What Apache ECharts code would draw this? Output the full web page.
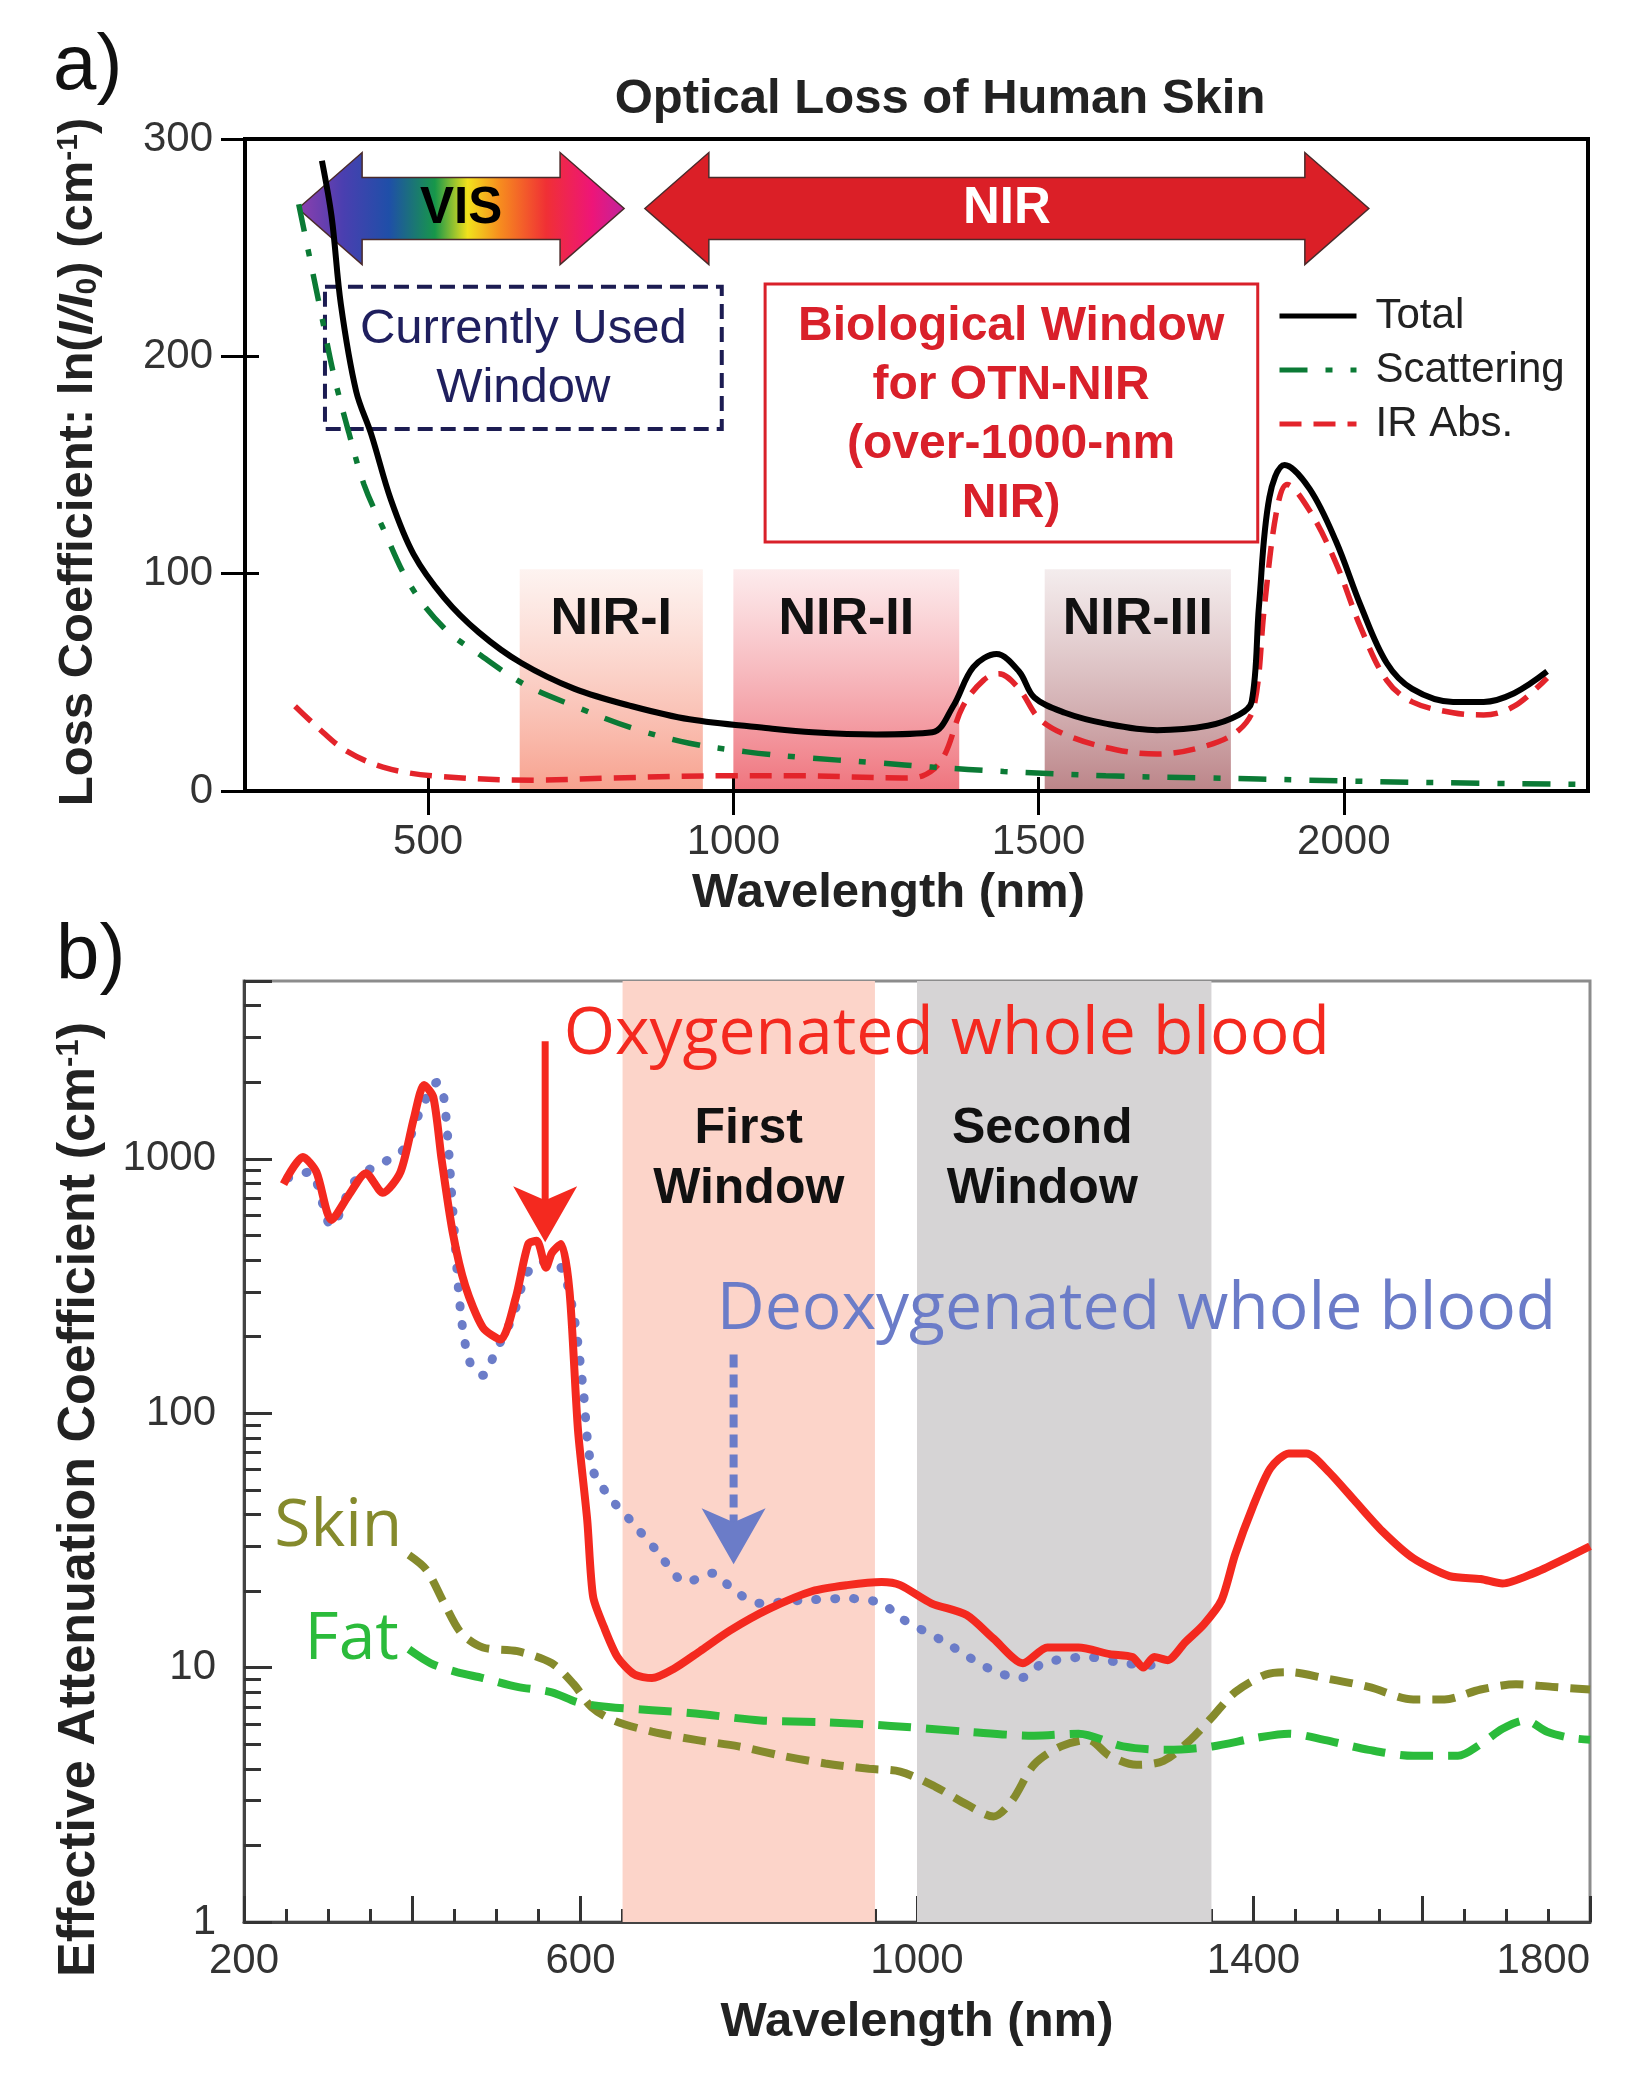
<!DOCTYPE html>
<html>
<head>
<meta charset="utf-8">
<script src="https://cdn.jsdelivr.net/npm/echarts@6/dist/echarts.min.js"></script>
<style>html,body{margin:0;padding:0;background:#fff}#c{width:1634px;height:2093px}</style>
</head>
<body>
<div id="c"></div>
<script>
// ---------------- Panel a data: [wavelength nm, loss coefficient cm^-1] ----------------
const totalLoss = [[326,290],[342,264],[357,224],[382,184],[407,164],[439,134],[476,109],[526,89],[583,73],[652,59],[740,47],[834,39],[928,33],[1053,29],[1130,27],[1234,26],[1326,27],[1360,39],[1393,57],[1431,63],[1468,55],[1493,43],[1543,36],[1610,31],[1694,28],[1777,30],[1828,35],[1849,41],[1861,85],[1878,135],[1903,150],[1944,139],[1987,115],[2028,85],[2070,59],[2112,47],[2179,41],[2229,41],[2279,45],[2333,55]];
const scatteringLoss = [[288,270],[307,244],[326,218],[345,192],[370,165],[395,141],[426,121],[470,95],[526,75],[583,63],[658,49],[740,39],[834,29],[928,22],[1022,18],[1110,15.5],[1234,13],[1326,11],[1443,9],[1610,7],[1777,6],[1944,5],[2112,4],[2397,3]];
const irAbsLoss = [[282,39],[320,29],[363,19],[426,11],[508,7],[677,5],[802,6],[990,7],[1109,7],[1276,6],[1310,7],[1343,15],[1376,39],[1410,51],[1435,54],[1468,47],[1502,33],[1552,25],[1627,19],[1694,17],[1777,21],[1828,28],[1853,39],[1870,85],[1890,129],[1907,141],[1944,129],[1987,105],[2028,75],[2070,51],[2112,41],[2179,36],[2229,35],[2279,39],[2333,52]];
const lossTicks = [0, 100, 200, 300];
const bandsA = [{name:'NIR-I', from:650, to:950, top:102}, {name:'NIR-II', from:1000, to:1370, top:102}, {name:'NIR-III', from:1510, to:1815, top:102}];

// ---------------- Panel b data: [wavelength nm, effective attenuation cm^-1] ----------------
const oxyBlood = [[247,796],[270,1017],[286,888],[304,575],[324,715],[345,878],[365,735],[386,888],[402,1446],[414,1950],[425,1750],[435,989],[448,516],[463,317],[484,217],[505,195],[523,284],[538,463],[548,476],[559,373],[566,427],[577,463],[587,300],[597,86],[608,38],[615,19],[628,14.4],[644,11],[664,9.4],[685,9.1],[711,9.9],[742,11.6],[778,14],[824,17],[876,20],[917,21.1],[958,21.7],[980,21.1],[1017,17.9],[1059,16.1],[1091,13],[1126,10.4],[1155,12],[1192,12],[1229,11.3],[1256,11],[1269,10],[1282,11],[1298,10.7],[1319,12.6],[1341,14.8],[1362,18.4],[1378,27.7],[1399,42.7],[1420,60.7],[1442,69.5],[1463,69.5],[1489,59],[1521,45],[1553,34.4],[1590,26.9],[1633,22.9],[1670,22.3],[1696,21.4],[1733,23.5],[1771,26.9],[1800,30]];
const deoxyBlood = [[252,841],[278,888],[304,545],[329,796],[350,912],[371,989],[391,1103],[412,1612],[430,2002],[438,1702],[448,641],[458,242],[469,157],[484,141],[499,175],[520,242],[536,353],[556,394],[577,373],[592,242],[603,126],[613,62],[633,47.5],[659,38],[690,29],[726,21.7],[757,23.5],[783,20],[814,17.9],[865,18.4],[917,18.7],[958,17.9],[980,15.7],[1033,12.6],[1086,9.9],[1123,9.1],[1150,10.4],[1203,11],[1245,10.4],[1282,10.2]];
const skinAtt = [[396,27.7],[417,24.2],[438,17.9],[458,13.7],[484,12],[525,11.6],[566,10.4],[592,8.6],[613,7],[639,6.2],[685,5.6],[737,5.2],[788,4.9],[840,4.5],[891,4.2],[943,4.0],[980,3.9],[1022,3.4],[1059,2.9],[1091,2.6],[1113,3.0],[1139,4.15],[1171,4.9],[1203,5.2],[1229,4.5],[1261,4.15],[1293,4.3],[1325,5.2],[1351,6.4],[1378,8],[1415,9.4],[1442,9.6],[1484,9.1],[1537,8.4],[1590,7.5],[1627,7.5],[1670,8.2],[1712,8.6],[1755,8.4],[1800,8.2]];
const fatAtt = [[396,11.8],[422,10.4],[453,9.6],[484,9.1],[525,8.4],[566,8],[597,7.3],[633,7],[685,6.8],[737,6.6],[814,6.2],[891,6.1],[969,5.9],[1059,5.6],[1139,5.4],[1192,5.5],[1245,4.9],[1298,4.75],[1351,4.9],[1404,5.3],[1442,5.5],[1484,5.2],[1537,4.75],[1590,4.5],[1643,4.5],[1670,5],[1696,5.75],[1723,6.2],[1749,5.6],[1776,5.3],[1800,5.2]];
const attTickLabels = ['1', '10', '100', '1000'];
const wavelengthLabelsB = [200, 600, 1000, 1400, 1800];
const bandsB = [{name:'First\nWindow', from:650, to:950}, {name:'Second\nWindow', from:1000, to:1350}];

// ---------------- Annotations (anchored in data coordinates) ----------------
const arrowsA = [
  {label:'VIS', from:287, to:821, y:268, fill:'rainbow', color:'#000'},
  {label:'NIR', from:855, to:2041, y:268, fill:'#db1f27', color:'#fff'}
];
const boxUsed = {x0:331, y0:232, x1:981, y1:166.6, tx:656, ty:199, text:'Currently Used\nWindow'};
const boxBio = {x0:1052, y0:233.3, x1:1859, y1:114.6, tx:1455, ty:173, text:'Biological Window\nfor OTN-NIR\n(over-1000-nm\nNIR)'};
const textsB = [
  {text:'Oxygenated whole blood', x:580, y:3050, color:'#f4291f'},
  {text:'Deoxygenated whole blood', x:762, y:255, color:'#6b7cc8'},
  {text:'Skin', x:236, y:35.5, color:'#858a2c'},
  {text:'Fat', x:272, y:12.8, color:'#2bbb3b'}
];
const arrowsB = [
  {x:558, from:2900, to:470, color:'#f4291f', dashed:false},
  {x:782, from:170, to:25.5, color:'#6b7cc8', dashed:true}
];

const F = '"Liberation Sans", Arial, Helvetica, sans-serif';
const H = '"Open Sans", "Noto Sans", sans-serif';

const rainbow = new echarts.graphic.LinearGradient(0, 0, 1, 0, [
  {offset:0, color:'#8e3fae'}, {offset:0.14, color:'#4a3fb0'}, {offset:0.28, color:'#1f4fa8'},
  {offset:0.42, color:'#17974a'}, {offset:0.52, color:'#f2e21c'}, {offset:0.62, color:'#f68b1f'},
  {offset:0.76, color:'#f03035'}, {offset:0.9, color:'#ee1578'}, {offset:1, color:'#c0239e'}
]);

function renderAnnotA(params, api) {
  const P = (x, y) => api.coord([x, y]);
  const kids = [];
  arrowsA.forEach(a => {
    const L = P(a.from, a.y), R = P(a.to, a.y);
    const cy = L[1], HH = 56, S = 31, HL = 64, x0 = L[0], x1 = R[0];
    const pts = [[x0,cy],[x0+HL,cy-HH],[x0+HL,cy-S],[x1-HL,cy-S],[x1-HL,cy-HH],[x1,cy],[x1-HL,cy+HH],[x1-HL,cy+S],[x0+HL,cy+S],[x0+HL,cy+HH]];
    kids.push({type:'polygon', shape:{points:pts}, style:{fill: a.fill === 'rainbow' ? rainbow : a.fill, stroke:'#4a2a2a', lineWidth:1.5}});
    kids.push({type:'text', style:{text:a.label, x:(x0+x1)/2, y:cy, align:'center', verticalAlign:'middle', fill:a.color, font:'bold 51px ' + F}});
  });
  [boxUsed, boxBio].forEach((b, i) => {
    const A = P(b.x0, b.y0), B = P(b.x1, b.y1);
    kids.push({type:'rect', shape:{x:A[0], y:A[1], width:B[0]-A[0], height:B[1]-A[1]},
      style: i === 0 ? {fill:'none', stroke:'#1c1c52', lineWidth:4, lineDash:[15,8]} : {fill:'#fff', stroke:'#d9202a', lineWidth:3}});
    const T = P(b.tx, b.ty);
    kids.push({type:'text', style:{text:b.text, x:T[0], y:T[1], align:'center', verticalAlign:'middle',
      lineHeight: 59,
      fill: i === 0 ? '#1f1f5e' : '#d9202a', font: (i === 0 ? '49px ' : 'bold 48px ') + F}});
  });
  return {type:'group', children:kids};
}

function renderAnnotB(params, api) {
  const P = (x, y) => api.coord([x, y]);
  const kids = [];
  textsB.forEach(t => {
    const p = P(t.x, t.y);
    kids.push({type:'text', style:{text:t.text, x:p[0], y:p[1], align:'left', verticalAlign:'middle', fill:t.color, font:'66px ' + H}});
  });
  arrowsB.forEach(a => {
    const s = P(a.x, a.from), t = P(a.x, a.to);
    kids.push({type:'line', shape:{x1:s[0], y1:s[1], x2:t[0], y2:t[1]-36},
      style:{stroke:a.color, lineWidth: a.dashed ? 8 : 7, lineDash: a.dashed ? [13, 7] : null}});
    kids.push({type:'polygon', shape:{points:[[t[0], t[1]], [t[0]-32, t[1]-56], [t[0], t[1]-42], [t[0]+32, t[1]-56]]}, style:{fill:a.color}});
  });
  return {type:'group', children:kids};
}

const tickLabelStyle = {fontSize:42, color:'#333', fontFamily:F};
const nameStyle = {fontSize:49, fontWeight:'bold', color:'#222', fontFamily:F};
const isPow10 = v => { const l = Math.log10(v); return Math.abs(l - Math.round(l)) < 1e-6; };

const option = {
  backgroundColor:'#fff',
  animation:false,
  title:{text:'Optical Loss of Human Skin', left:935, top:70, textAlign:'center',
    textStyle:{fontSize:49, fontWeight:'bold', color:'#222', fontFamily:F}},
  legend:{data:['Total','Scattering','IR Abs.'], orient:'vertical', left:1272, top:290,
    itemWidth:77, itemHeight:40, itemGap:12, itemStyle:{opacity:0, borderWidth:0}, lineStyle:{width:5},
    textStyle:{fontSize:42, color:'#222', fontFamily:F, padding:[0,0,0,14]}},
  graphic:[
    {type:'text', left:53, top:28, style:{text:'a)', font:'78px ' + F, fill:'#111'}},
    {type:'text', left:56, top:918, style:{text:'b)', font:'78px ' + F, fill:'#111'}}
  ],
  grid:[
    {left:245, top:139, width:1343, height:652, show:true, borderColor:'#000', borderWidth:4, containLabel:false, outerBoundsMode:'none'},
    {left:244, top:981, width:1346, height:941, show:true, borderColor:'#8c8c8c', borderWidth:3, containLabel:false, outerBoundsMode:'none'}
  ],
  xAxis:[
    {gridIndex:0, type:'value', min:200, max:2400, splitNumber:5, position:'bottom',
      axisLine:{lineStyle:{color:'#000', width:4}}, axisTick:{show:true, inside:false, length:24, lineStyle:{color:'#000', width:3}},
      axisLabel:{...tickLabelStyle, margin:30, showMinLabel:false, showMaxLabel:false, formatter:v => (v % 500 === 0 ? String(v) : '')},
      splitLine:{show:false},
      name:'Wavelength (nm)', nameLocation:'middle', nameGap:78, nameTextStyle:{...nameStyle, padding:[0,56,0,0]}},
    {gridIndex:0, type:'value', min:200, max:2400, splitNumber:5, position:'bottom',
      axisLine:{show:false}, axisTick:{show:true, inside:true, length:14, lineStyle:{color:'#000', width:3}},
      axisLabel:{show:false}, splitLine:{show:false}},
    {gridIndex:1, type:'value', min:200, max:1800, interval:200, position:'bottom',
      axisLine:{lineStyle:{color:'#444', width:3}}, axisTick:{show:true, inside:true, length:26, lineStyle:{color:'#333', width:3}},
      minorTick:{show:true, splitNumber:4, length:13, lineStyle:{color:'#333', width:3}},
      axisLabel:{...tickLabelStyle, margin:18, alignMaxLabel:'right',
        formatter:v => (wavelengthLabelsB.indexOf(v) >= 0 ? String(v) : '')},
      splitLine:{show:false},
      name:'Wavelength (nm)', nameLocation:'middle', nameGap:76, nameTextStyle:nameStyle}
  ],
  yAxis:[
    {gridIndex:0, type:'value', min:0, max:300, interval:100, position:'left',
      axisLine:{lineStyle:{color:'#000', width:4}}, axisTick:{show:true, inside:false, length:24, lineStyle:{color:'#000', width:3}},
      axisLabel:{...tickLabelStyle, margin:32, formatter:v => (lossTicks.indexOf(v) >= 0 ? String(v) : '')},
      splitLine:{show:false},
      name:'Loss Coefficient: ln({i|I/I}{s|0}) (cm{p|-1})', nameLocation:'middle', nameGap:142,
      nameTextStyle:{...nameStyle, fontSize:49, padding:[0,0,0,6], rich:{
        i:{fontSize:49, fontWeight:'bold', fontStyle:'italic', color:'#222', fontFamily:F},
        s:{fontSize:30, fontWeight:'bold', color:'#222', fontFamily:F, verticalAlign:'bottom', lineHeight:49},
        p:{fontSize:30, fontWeight:'bold', color:'#222', fontFamily:F, verticalAlign:'top', lineHeight:49}}}},
    {gridIndex:0, type:'value', min:0, max:300, interval:100, position:'left',
      axisLine:{show:false}, axisTick:{show:true, inside:true, length:14, lineStyle:{color:'#000', width:3}},
      axisLabel:{show:false}, splitLine:{show:false}},
    {gridIndex:1, type:'log', logBase:10, min:1, max:5000, position:'left',
      axisLine:{lineStyle:{color:'#444', width:3}}, axisTick:{show:true, inside:true, length:28, lineStyle:{color:'#333', width:3}},
      minorTick:{show:true, splitNumber:9, length:17, lineStyle:{color:'#333', width:3}},
      axisLabel:{...tickLabelStyle, margin:28, showMaxLabel:false,
        formatter:v => (isPow10(v) && attTickLabels.indexOf(String(Math.round(v))) >= 0 ? String(Math.round(v)) : '')},
      splitLine:{show:false}, minorSplitLine:{show:false},
      name:'Effective Attenuation Coefficient (cm{p|-1})', nameLocation:'middle', nameGap:138,
      nameTextStyle:{...nameStyle, fontSize:52, padding:[0,96,0,0], rich:{
        p:{fontSize:31, fontWeight:'bold', color:'#222', fontFamily:F, verticalAlign:'top', lineHeight:52}}}}
  ],
  series:[
    {type:'custom', name:'annotA', xAxisIndex:0, yAxisIndex:0, data:[[0,0]], renderItem:renderAnnotA, clip:false, z:1, silent:true},
    {type:'line', name:'IR Abs.', xAxisIndex:0, yAxisIndex:0, data:irAbsLoss, symbol:'none', smooth:0.35, z:3,
      lineStyle:{color:'#e3242b', width:5.5, type:[22,12]}, itemStyle:{color:'#e3242b'},
      markArea:{silent:true, z:0, data: bandsA.map((b, i) => [
        {xAxis:b.from, yAxis:0, name:b.name, itemStyle:{color:new echarts.graphic.LinearGradient(0,0,0,1,
          i === 0 ? [{offset:0,color:'rgba(253,238,234,0.7)'},{offset:1,color:'rgba(247,156,136,0.95)'}]
          : i === 1 ? [{offset:0,color:'rgba(252,228,230,0.75)'},{offset:1,color:'rgba(238,108,118,0.95)'}]
          : [{offset:0,color:'rgba(240,230,231,0.75)'},{offset:1,color:'rgba(184,126,130,0.95)'}])}},
        {xAxis:b.to, yAxis:b.top}]),
        label:{show:true, position:'insideTop', distance:24, color:'#111', fontSize:52, fontWeight:'bold', fontFamily:F}}},
    {type:'line', name:'Scattering', xAxisIndex:0, yAxisIndex:0, data:scatteringLoss, symbol:'none', smooth:0.35, z:3,
      lineStyle:{color:'#0b7a35', width:5.5, type:[28,18,7,18]}, itemStyle:{color:'#0b7a35'}},
    {type:'line', name:'Total', xAxisIndex:0, yAxisIndex:0, data:totalLoss, symbol:'none', smooth:0.35, z:4,
      lineStyle:{color:'#000', width:6}, itemStyle:{color:'#000'}},

    {type:'line', name:'Skin', xAxisIndex:2, yAxisIndex:2, data:skinAtt, symbol:'none', smooth:0.3, z:3,
      lineStyle:{color:'#858a2c', width:8, type:[23,12]}, itemStyle:{color:'#858a2c'},
      markArea:{silent:true, data: bandsB.map((b, i) => [
        {xAxis:b.from, name:b.name, itemStyle:{color: i === 0 ? '#fcd4c9' : '#d6d4d5'},
          label: i === 0 ? {} : {offset:[-22, 0]}}, {xAxis:b.to}]),
        label:{show:true, position:'insideTop', distance:118, color:'#111', fontSize:50, fontWeight:'bold', fontFamily:F, lineHeight:60}}},
    {type:'line', name:'Fat', xAxisIndex:2, yAxisIndex:2, data:fatAtt, symbol:'none', smooth:0.3, z:3,
      lineStyle:{color:'#2bbb3b', width:8, type:[33,15]}, itemStyle:{color:'#2bbb3b'}},
    {type:'line', name:'Deoxygenated whole blood', xAxisIndex:2, yAxisIndex:2, data:deoxyBlood, symbol:'none', smooth:0.3, z:3,
      lineStyle:{color:'#6b7cc8', width:9, type:[1,18], cap:'round'}, itemStyle:{color:'#6b7cc8'}},
    {type:'line', name:'Oxygenated whole blood', xAxisIndex:2, yAxisIndex:2, data:oxyBlood, symbol:'none', smooth:0.25, z:4,
      lineStyle:{color:'#f4291f', width:8}, itemStyle:{color:'#f4291f'}},
    {type:'custom', name:'annotB', xAxisIndex:2, yAxisIndex:2, data:[[0,1]], renderItem:renderAnnotB, clip:false, z:5, silent:true}
  ]
};

const chart = echarts.init(document.getElementById('c'));
chart.setOption(option);
</script>
</body>
</html>
